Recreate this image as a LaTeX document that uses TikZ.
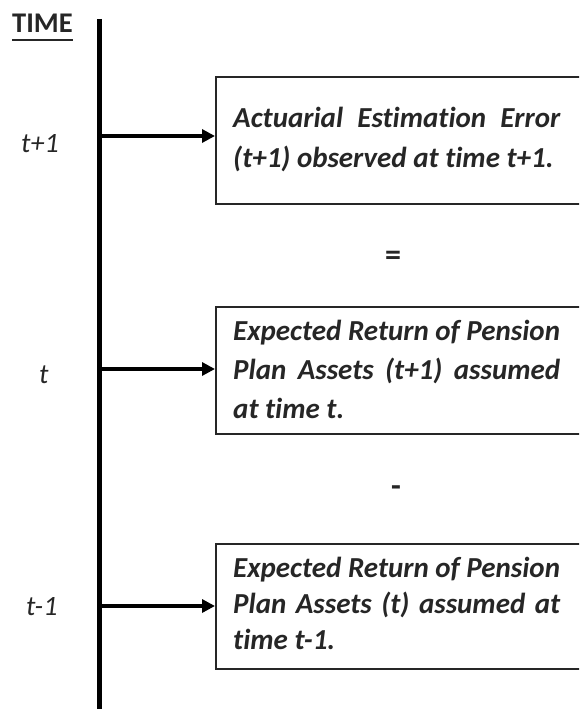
\documentclass[tikz,border=0pt]{standalone}
\usepackage{fontspec}
\setmainfont{Carlito}[Ligatures={NoCommon}]
\usetikzlibrary{arrows.meta}
\tikzset{
  axisline/.style={line width=4.5pt, black},
  arr/.style={line width=3.2pt, -{Triangle[length=13pt,width=13pt]}},
  box/.style={draw=black!85, line width=1.5pt, anchor=north west, minimum width=400pt, inner sep=0pt},
  btext/.style={anchor=base west, inner sep=0pt, font=\fontsize{29}{34}\selectfont\bfseries\itshape, text=black!85},
  tlabel/.style={anchor=base west, inner sep=0pt, font=\fontsize{28}{32}\selectfont\itshape, text=black!85},
  sign/.style={inner sep=0pt, font=\fontsize{32}{36}\selectfont\bfseries, text=black!85}
}
\newcommand{\jline}[1]{\makebox[327pt][s]{#1}}
\begin{document}
\begin{tikzpicture}[x=1pt,y=-1pt]
\useasboundingbox (0,0) rectangle (579,709);
\clip (0,0) rectangle (579,709);
% title
\node[anchor=base west, inner sep=0pt, font=\fontsize{28.5}{32}\selectfont\bfseries, text=black!85] (title) at (12,33) {TIME};
\draw[line width=2pt, black!85] (title.south west |- 0,40) -- (title.south east |- 0,40);
% axis
\coordinate (top) at (99.5,19);
\coordinate (bot) at (99.5,712);
\draw[axisline] (top) -- (bot);
\coordinate (a1) at (99.5,136);
\coordinate (a2) at (99.5,369);
\coordinate (a3) at (99.5,606);
% boxes
\node[box, minimum height=127pt] (b1) at (215,76) {};
\node[box, minimum height=127pt] (b2) at (215,306) {};
\node[box, minimum height=125pt] (b3) at (215,543) {};
% arrows
\draw[arr] (a1) -- (a1 -| b1.west);
\draw[arr] (a2) -- (a2 -| b2.west);
\draw[arr] (a3) -- (a3 -| b3.west);
% labels
\node[tlabel] (l1) at (21,152) {t+1};
\node[tlabel] (l2) at (39,383) {t};
\node[tlabel] (l3) at (26,615) {t-1};
% box texts
\node[btext] (t11) at (233,127) {\jline{Actuarial Estimation Error}};
\node[btext] (t12) at (233,167) {(t+1) observed at time t+1.};
\node[btext] (t21) at (233,340) {Expected Return of Pension};
\node[btext] (t22) at (233,379) {\jline{Plan Assets (t+1) assumed}};
\node[btext] (t23) at (233,418) {at time t.};
\node[btext] (t31) at (233,577) {Expected Return of Pension};
\node[btext] (t32) at (233,613) {\jline{Plan Assets (t) assumed at}};
\node[btext] (t33) at (233,649) {time t-1.};
% signs
\node[sign] (eq) at (393,258) {=};
\node[sign] (mi) at (396,491) {-};
\end{tikzpicture}
\end{document}
